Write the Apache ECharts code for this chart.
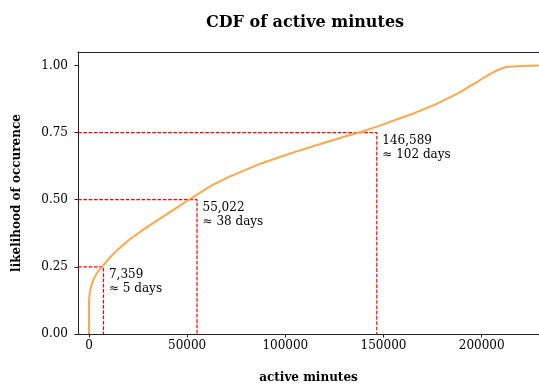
<!DOCTYPE html>
<html>
<head>
<meta charset="utf-8">
<script src="https://cdn.jsdelivr.net/npm/echarts@6/dist/echarts.min.js"></script>
<style>
  html, body { margin: 0; padding: 0; background: #fff; }
  #chart { width: 539px; height: 385px; }
</style>
</head>
<body>
<div id="chart"></div>
<script>
// Cumulative distribution of active minutes (minutes, cumulative share)
const activeMinutes = [0, 0, 300, 1200, 2500, 4600, 7000, 9700, 12400, 14800, 20000, 26000, 32000,
  37800, 44000, 50300, 57000, 63300, 71000, 80300, 88000, 97300, 105000, 114200, 122000,
  131200, 138400, 148200, 156000, 165200, 171000, 177100, 183000, 188900, 193000, 197400,
  201000, 204200, 208000, 212200, 220000, 229200];
const cumulativeShare = [0, 0.12, 0.15, 0.18, 0.207, 0.233, 0.253, 0.277, 0.298, 0.315, 0.348, 0.38, 0.41,
  0.437, 0.467, 0.497, 0.528, 0.556, 0.584, 0.613, 0.636, 0.659, 0.678, 0.699, 0.717,
  0.737, 0.752, 0.776, 0.797, 0.821, 0.838, 0.857, 0.878, 0.9, 0.918, 0.937,
  0.954, 0.968, 0.982, 0.994, 0.998, 1.0];

// Quartile markers
const quartileLevels = [0.25, 0.5, 0.75];
const quartileMinutes = [7359, 55022, 146589];

// Tick labels
const xTicks = [0, 50000, 100000, 150000, 200000];
const yTicks = [0, 0.25, 0.5, 0.75, 1.0];

const X_MIN = -5600, X_MAX = 229200;
const FONT = '"DejaVu Serif", serif';

const chart = echarts.init(document.getElementById('chart'), null, { renderer: 'canvas' });

const curve = activeMinutes.map((m, i) => [m, cumulativeShare[i]]);

const dashStyle = { color: '#ff0000', width: 1.2, type: [3.7, 1.6] };

const markerSeries = quartileMinutes.map((m, i) => ({
  type: 'line',
  data: [[X_MIN, quartileLevels[i]], [m, quartileLevels[i]], [m, 0]],
  symbol: 'none',
  lineStyle: dashStyle,
  silent: true,
  z: 3
}));

const annotationText = {
  show: true,
  position: [6, 2],
  align: 'left',
  verticalAlign: 'top',
  fontFamily: FONT,
  fontSize: 12,
  lineHeight: 14,
  color: '#000',
  opacity: 1,
  textBorderWidth: 0
};

const labelSeries = {
  type: 'scatter',
  symbolSize: 1,
  silent: true,
  itemStyle: { color: 'rgba(0,0,0,0)' },
  emphasis: { disabled: true },
  data: quartileMinutes.map((m, i) => ({
    value: [m, quartileLevels[i]],
    label: Object.assign({
      formatter: m.toLocaleString('en-US') + '\n\u2248 ' + Math.round(m / 1440) + ' days'
    }, annotationText)
  })),
  label: annotationText,
  z: 5
};

const axisLine = { show: true, onZero: false, lineStyle: { color: '#222', width: 1 } };
const axisTick = { show: true, length: 3.5, lineStyle: { color: '#222', width: 1 } };

chart.setOption({
  animation: false,
  title: {
    text: 'CDF of active minutes',
    left: 300,
    textAlign: 'center',
    top: 10,
    textStyle: { fontFamily: FONT, fontSize: 16, fontWeight: 'bold', color: '#000' }
  },
  grid: { left: 78, top: 52, right: 0, bottom: 51, containLabel: false, outerBoundsMode: 'none' },
  xAxis: [{
    type: 'value',
    min: X_MIN,
    max: X_MAX,
    splitLine: { show: false },
    axisLine: axisLine,
    axisTick: Object.assign({ customValues: xTicks }, axisTick),
    axisLabel: {
      customValues: xTicks,
      formatter: v => String(v),
      fontFamily: FONT, fontSize: 12, color: '#000', margin: 6
    },
    name: 'active minutes',
    nameLocation: 'middle',
    nameGap: 38,
    nameTextStyle: { fontFamily: FONT, fontSize: 12, fontWeight: 'bold', color: '#000' }
  }, {
    type: 'value',
    position: 'top',
    min: X_MIN,
    max: X_MAX,
    splitLine: { show: false },
    axisLine: axisLine,
    axisTick: { show: false },
    axisLabel: { show: false }
  }],
  yAxis: {
    type: 'value',
    min: 0,
    max: 1.05,
    splitLine: { show: false },
    axisLine: axisLine,
    axisTick: Object.assign({ customValues: yTicks }, axisTick),
    axisLabel: {
      customValues: yTicks,
      formatter: v => v.toFixed(2),
      fontFamily: FONT, fontSize: 12, color: '#000', margin: 10
    },
    name: 'likelihood of occurence',
    nameLocation: 'middle',
    nameGap: 55,
    nameTextStyle: { fontFamily: FONT, fontSize: 12, fontWeight: 'bold', color: '#000' }
  },
  series: [
    ...markerSeries,
    {
      type: 'line',
      data: curve,
      symbol: 'none',
      smooth: false,
      lineStyle: { color: '#ffa64d', width: 2, join: 'round' },
      z: 4
    },
    labelSeries
  ]
});
</script>
</body>
</html>
